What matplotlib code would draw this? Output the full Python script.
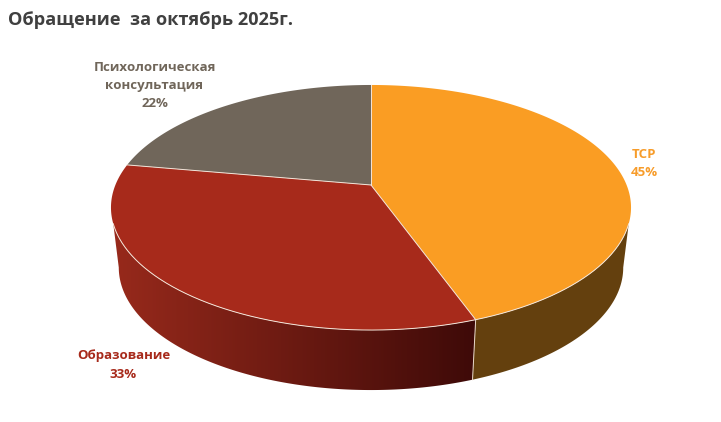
import numpy as np
import matplotlib
matplotlib.use('Agg')
import matplotlib.pyplot as plt
from matplotlib.colors import LinearSegmentedColormap

# share of requests, percent (slightly more exact than the printed labels)
categories = ['ТСР', 'Образование', 'Психологическая\nконсультация']
values = [44.5, 33.3, 22.2]
percent_labels = ['45%', '33%', '22%']
top_colors = ['#FA9D23', '#A72A1B', '#70665A']
side_left = ['#64400E', '#96291B', '#4A443C']
side_right = ['#64400E', '#3E0A08', '#4A443C']
label_colors = ['#F79C2A', '#A72A1B', '#70665A']
label_pos = [(644, 163), (123.5, 365), (154.5, 85.5)]

title = 'Обращение  за октябрь 2025г.'

plt.rcParams['font.family'] = ['Open Sans', 'DejaVu Sans']

# pie geometry in pixels, apex of the pie and perspective of the disc
cx, cy = 371, 185
A, B, k = 255.6, 118.4, 0.1837
depth = 60
base_scale = 0.97
rim_start = np.pi * 0.6  # where the wall leaves the top face
base_start = np.arccos(-k)  # widest point of the lower ring


def top_point(theta):
    # theta runs clockwise from 12 o'clock
    X, Y = np.sin(theta), np.cos(theta)
    w = 1 + k * Y
    return cx + A * X / w, cy - B * Y / w


def base_point(theta):
    x, y = top_point(theta)
    return cx + (x - cx) * base_scale, y + depth


fig = plt.figure(figsize=(7.21, 4.22), dpi=100)
ax = fig.add_axes([0, 0, 1, 1])
ax.axis('off')

edges = np.cumsum([0] + values) / np.sum(values) * 2 * np.pi

# horizontal ramp for the wall gradient, one column per pixel
ramp = np.clip((np.arange(721) - 118) / (476 - 118), 0, 1).reshape(1, -1)

# side wall of each slice that reaches the front
for i in range(len(values)):
    lo_t = max(edges[i], rim_start)
    hi_t = min(edges[i + 1], 2 * np.pi - rim_start)
    if lo_t >= hi_t:
        continue
    lo_b = max(edges[i], base_start)
    hi_b = min(edges[i + 1], 2 * np.pi - base_start)
    x_t, y_t = top_point(np.linspace(lo_t, hi_t, 200))
    x_b, y_b = base_point(np.linspace(lo_b, hi_b, 200))
    wall = ax.fill(np.r_[x_t, x_b[::-1]], np.r_[y_t, y_b[::-1]], lw=0, zorder=2)[0]
    wall.set_visible(False)
    cmap = LinearSegmentedColormap.from_list('wall', [side_left[i], side_right[i]])
    img = ax.imshow(ramp, cmap=cmap, vmin=0, vmax=1, aspect='auto',
                    extent=(0, 721, 422, 0), zorder=2.5)
    img.set_clip_path(wall)

# light seam where the red and orange walls meet
sx_t, sy_t = top_point(edges[1])
sx_b, sy_b = base_point(edges[1])
ax.plot([sx_t, sx_b], [sy_t, sy_b], color='#E8D8C8', lw=0.7, zorder=3)

# top face, no outline on the back of the disc
for i in range(len(values)):
    thetas = np.linspace(edges[i], edges[i + 1], 200)
    x_t, y_t = top_point(thetas)
    ax.fill(np.r_[cx, x_t], np.r_[cy, y_t], color=top_colors[i], lw=0, zorder=4)

# separators between slices
for e in edges[:-1]:
    ex, ey = top_point(e)
    ax.plot([cx, ex], [cy, ey], color='#F2E4D8', lw=0.7, zorder=5)

# light line along the front rim
rx, ry = top_point(np.linspace(rim_start, 2 * np.pi - rim_start, 300))
ax.plot(rx, ry, color='#F4E6DA', lw=0.7, zorder=5)

for i in range(len(categories)):
    ax.text(label_pos[i][0], label_pos[i][1], categories[i] + '\n' + percent_labels[i],
            color=label_colors[i], fontsize=9.5, fontweight='bold',
            ha='center', va='center', linespacing=1.5, zorder=6)

ax.text(8, 20, title, color='#404040', fontsize=13.1, fontweight='bold',
        ha='left', va='center')

ax.set_xlim(0, 721)
ax.set_ylim(422, 0)

fig.savefig('out.png', dpi=100)
